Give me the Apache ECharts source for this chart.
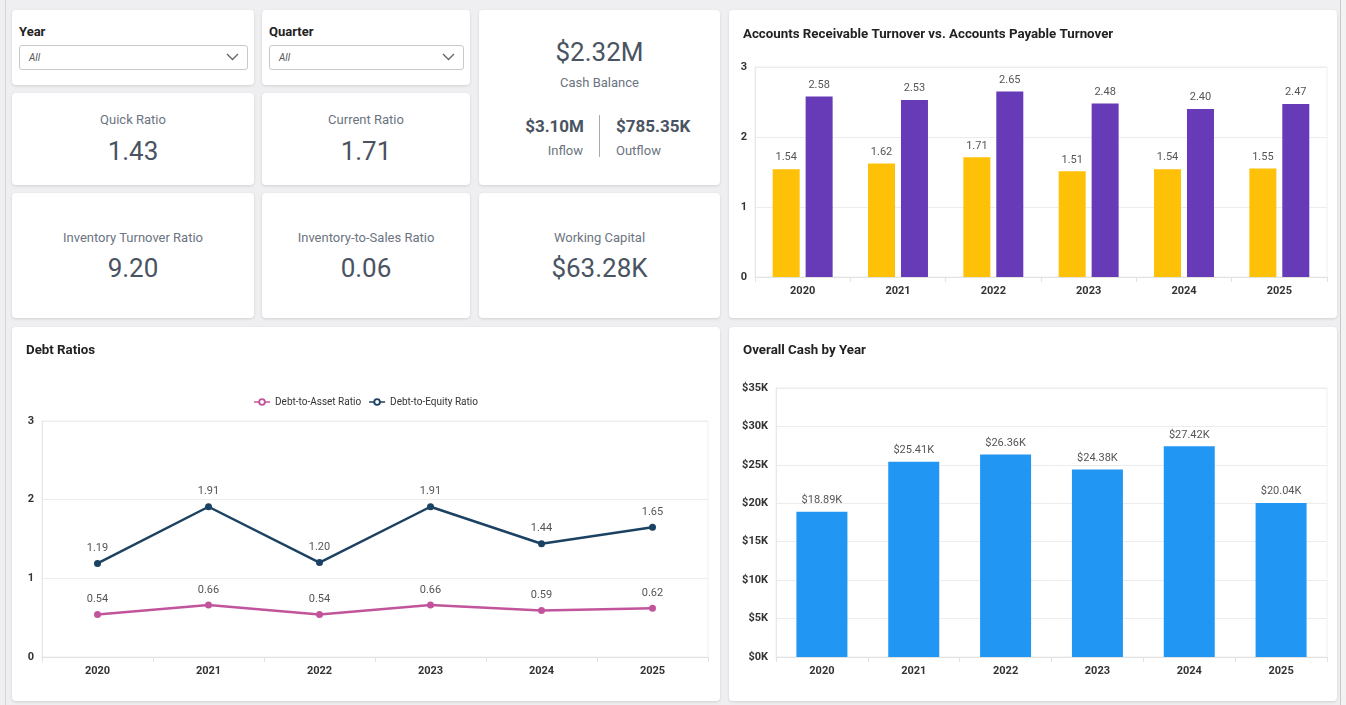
<!DOCTYPE html>
<html>
<head>
<meta charset="utf-8">
<script src="https://cdn.jsdelivr.net/npm/echarts@6/dist/echarts.min.js"></script>
<style>
html,body{margin:0;padding:0;width:1346px;height:705px;overflow:hidden;background:#efeff1;font-family:Roboto,"Noto Sans",sans-serif;}
.card{position:absolute;background:#fff;border-radius:4px;box-shadow:0 1px 3px rgba(0,0,0,0.13);}
.lbl{position:absolute;left:0;right:0;text-align:center;color:#6b7480;font-size:13px;}
.val{position:absolute;left:0;right:0;text-align:center;color:#4a5361;font-size:26px;}
.ftitle{position:absolute;left:7px;top:14px;font-size:13px;font-weight:bold;color:#222;}
.sel{position:absolute;left:7px;right:6px;top:35px;height:25px;border:1px solid #c9c9c9;border-radius:3px;box-sizing:border-box;}
.sel span{position:absolute;left:9px;top:6px;font-size:10px;font-style:italic;color:#555;}
.sel svg{position:absolute;right:8px;top:7px;}
#leftline{position:absolute;left:5px;top:0;width:1px;height:705px;background:#d4d4d6;}
#rightline{position:absolute;left:1340px;top:0;width:1px;height:705px;background:#c8c8ca;}
#rightstrip{position:absolute;left:1341px;top:0;width:5px;height:705px;background:#f2f2f3;}
</style>
</head>
<body>
<div id="leftline"></div>
<div id="rightline"></div>
<div id="rightstrip"></div>

<!-- filters -->
<div class="card" style="left:12px;top:10px;width:242px;height:75px;">
  <div class="ftitle">Year</div>
  <div class="sel"><span>All</span><svg width="13" height="8" viewBox="0 0 13 8"><path d="M1 1 L6.5 6.5 L12 1" fill="none" stroke="#666" stroke-width="1.4"/></svg></div>
</div>
<div class="card" style="left:262px;top:10px;width:208px;height:75px;">
  <div class="ftitle">Quarter</div>
  <div class="sel"><span>All</span><svg width="13" height="8" viewBox="0 0 13 8"><path d="M1 1 L6.5 6.5 L12 1" fill="none" stroke="#666" stroke-width="1.4"/></svg></div>
</div>

<!-- KPI cards -->
<div class="card" style="left:12px;top:93px;width:242px;height:92px;">
  <div class="lbl" style="top:19px;">Quick Ratio</div>
  <div class="val" style="top:43px;">1.43</div>
</div>
<div class="card" style="left:262px;top:93px;width:208px;height:92px;">
  <div class="lbl" style="top:19px;">Current Ratio</div>
  <div class="val" style="top:43px;">1.71</div>
</div>
<div class="card" style="left:479px;top:10px;width:241px;height:175px;">
  <div class="val" style="top:27px;">$2.32M</div>
  <div class="lbl" style="top:65px;">Cash Balance</div>
  <div style="position:absolute;left:0;width:105px;top:106px;text-align:right;font-size:17px;font-weight:bold;color:#4a5361;">$3.10M</div>
  <div style="position:absolute;left:0;width:104px;top:133px;text-align:right;font-size:13px;color:#6b7480;">Inflow</div>
  <div style="position:absolute;left:120px;width:1px;top:105px;height:42px;background:#aaa;"></div>
  <div style="position:absolute;left:137px;top:106px;font-size:17px;font-weight:bold;color:#4a5361;">$785.35K</div>
  <div style="position:absolute;left:137px;top:133px;font-size:13px;color:#6b7480;">Outflow</div>
</div>
<div class="card" style="left:12px;top:193px;width:242px;height:125px;">
  <div class="lbl" style="top:37px;">Inventory Turnover Ratio</div>
  <div class="val" style="top:60px;">9.20</div>
</div>
<div class="card" style="left:262px;top:193px;width:208px;height:125px;">
  <div class="lbl" style="top:37px;">Inventory-to-Sales Ratio</div>
  <div class="val" style="top:60px;">0.06</div>
</div>
<div class="card" style="left:479px;top:193px;width:241px;height:125px;">
  <div class="lbl" style="top:37px;">Working Capital</div>
  <div class="val" style="top:60px;">$63.28K</div>
</div>

<!-- charts -->
<div class="card" id="arap" style="left:729px;top:10px;width:608px;height:308px;"></div>
<div class="card" id="debt" style="left:12px;top:327px;width:708px;height:374px;"></div>
<div class="card" id="cash" style="left:729px;top:327px;width:608px;height:374px;"></div>

<script>
// ---- data ----
var years = ['2020','2021','2022','2023','2024','2025'];
var arTurnover = [1.54, 1.62, 1.71, 1.51, 1.54, 1.55];
var apTurnover = [2.58, 2.53, 2.65, 2.48, 2.40, 2.47];
var debtToAsset = [0.54, 0.66, 0.54, 0.66, 0.59, 0.62];
var debtToEquity = [1.19, 1.91, 1.20, 1.91, 1.44, 1.65];
var overallCash = [18890, 25410, 26360, 24380, 27420, 20040];

var FONT = 'Roboto';
var PINK = '#C2549C', NAVY = '#1B4262';
var LEGEND_ICON = 'path://M0 3.3 H4.6 V4.7 H0 Z M11.4 3.3 H16 V4.7 H11.4 Z M8 0.2 A3.8 3.8 0 1 1 7.99 0.2 Z M8 2.1 A1.9 1.9 0 1 0 8.01 2.1 Z';
var titleStyle = {fontSize:13.3, fontWeight:'bold', color:'#222', fontFamily:FONT};
var axisLabelStyle = {fontSize:11, fontWeight:'bold', color:'#333', fontFamily:FONT};
var valLabel = {show:true, position:'top', fontSize:11, color:'#555', fontFamily:FONT, distance:6};

function catAxis(){
  return {
    type:'category', data:years,
    axisLine:{show:true, lineStyle:{color:'#e2e2e2'}},
    axisTick:{show:true, alignWithLabel:false, length:5, lineStyle:{color:'#e2e2e2'}},
    axisLabel:Object.assign({margin:9}, axisLabelStyle)
  };
}
function valAxis(max, interval, fmt){
  return {
    type:'value', min:0, max:max, interval:interval,
    axisLine:{show:true, lineStyle:{color:'#e8e8e8'}},
    axisTick:{show:false},
    splitLine:{lineStyle:{color:'#ececec'}},
    axisLabel:Object.assign({margin:8, formatter:fmt}, axisLabelStyle)
  };
}

var c1 = echarts.init(document.getElementById('arap'));
c1.setOption({
  animation:false,
  title:{text:'Accounts Receivable Turnover vs. Accounts Payable Turnover', left:9, top:13, textStyle:titleStyle},
  grid:{left:26, right:10, top:57, bottom:41, show:true, borderColor:'#efefef', borderWidth:1},
  xAxis:catAxis(),
  yAxis:valAxis(3, 1),
  series:[
    {name:'AR Turnover', type:'bar', data:arTurnover, barWidth:27, barGap:'22%',
     itemStyle:{color:'#FFC107'}, label:Object.assign({formatter:function(p){return p.value.toFixed(2);}}, valLabel)},
    {name:'AP Turnover', type:'bar', data:apTurnover, barWidth:27,
     itemStyle:{color:'#673AB7'}, label:Object.assign({formatter:function(p){return p.value.toFixed(2);}}, valLabel)}
  ]
});

var c2 = echarts.init(document.getElementById('debt'));
c2.setOption({
  animation:false,
  title:{text:'Debt Ratios', left:9, top:12, textStyle:titleStyle},
  legend:{top:65, left:'center', itemWidth:16, itemHeight:8, itemGap:8,
    textStyle:{fontSize:10, color:'#333', fontFamily:FONT},
    data:[
      {name:'Debt-to-Asset Ratio', icon:LEGEND_ICON},
      {name:'Debt-to-Equity Ratio', icon:LEGEND_ICON}
    ]},
  grid:{left:30, right:12, top:94, bottom:44, show:true, borderColor:'#efefef', borderWidth:1},
  xAxis:catAxis(),
  yAxis:valAxis(3, 1),
  series:[
    {name:'Debt-to-Asset Ratio', type:'line', data:debtToAsset, symbol:'circle', symbolSize:7,
     lineStyle:{width:2.5, color:PINK}, itemStyle:{color:PINK},
     label:Object.assign({formatter:function(p){return p.value.toFixed(2);}}, valLabel)},
    {name:'Debt-to-Equity Ratio', type:'line', data:debtToEquity, symbol:'circle', symbolSize:7,
     lineStyle:{width:2.5, color:NAVY}, itemStyle:{color:NAVY},
     label:Object.assign({formatter:function(p){return p.value.toFixed(2);}}, valLabel)}
  ]
});

var c3 = echarts.init(document.getElementById('cash'));
c3.setOption({
  animation:false,
  title:{text:'Overall Cash by Year', left:9, top:12, textStyle:titleStyle},
  grid:{left:47, right:10, top:61, bottom:44, show:true, borderColor:'#efefef', borderWidth:1},
  xAxis:catAxis(),
  yAxis:valAxis(35000, 5000, function(v){return '$' + (v/1000) + 'K';}),
  series:[
    {name:'Overall Cash', type:'bar', data:overallCash, barWidth:51,
     itemStyle:{color:'#2196F3'},
     label:Object.assign({formatter:function(p){return '$' + (p.value/1000).toFixed(2) + 'K';}}, valLabel)}
  ]
});
</script>
</body>
</html>
